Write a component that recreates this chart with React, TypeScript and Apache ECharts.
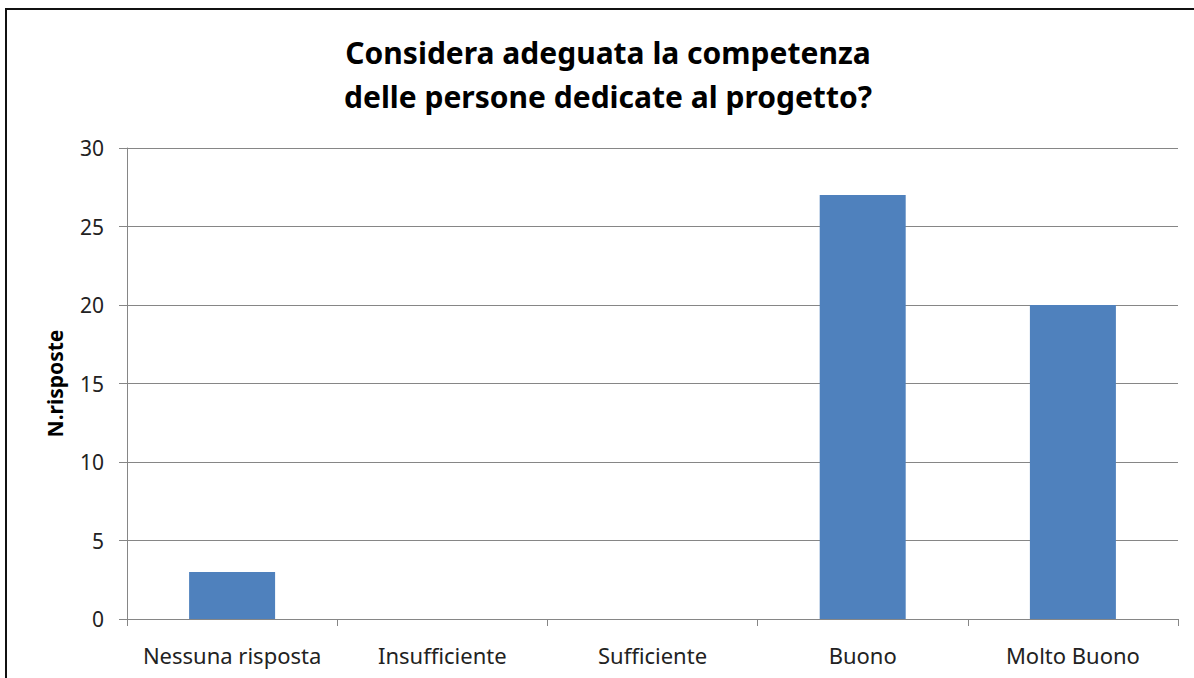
import React, { useEffect, useRef } from "react";
import * as echarts from "echarts";

const categories = ["Nessuna risposta", "Insufficiente", "Sufficiente", "Buono", "Molto Buono"];
const values = [3, 0, 0, 27, 20];
const titleLines = ["Considera adeguata la competenza", "delle persone dedicate al progetto?"];
const yAxisName = "N.risposte";

export default function App() {
  const ref = useRef<HTMLDivElement>(null);
  useEffect(() => {
    if (!ref.current) return;
    const chart = echarts.init(ref.current, null, { renderer: "svg" });
    chart.setOption({
      animation: false,
      backgroundColor: "#ffffff",
      title: {
        text: titleLines.join("\n"),
        left: 603,
        top: 25,
        textAlign: "center",
        textStyle: {
          fontFamily: "Noto Sans",
          fontWeight: "bold",
          fontSize: 30,
          lineHeight: 44,
          color: "#000",
        },
      },
      graphic: [
        {
          type: "rect",
          shape: { x: 6, y: 9, width: 1200, height: 700 },
          style: { fill: "none", stroke: "#111", lineWidth: 2 },
          silent: true,
        },
      ],
      grid: { left: 127, top: 148, right: 16, bottom: 59 },
      xAxis: {
        type: "category",
        data: categories,
        boundaryGap: true,
        axisLine: { show: true, lineStyle: { color: "#868686", width: 1 } },
        axisTick: { show: true, length: 7, interval: 0, lineStyle: { color: "#868686" } },
        axisLabel: {
          interval: 0,
          margin: 25,
          fontFamily: "Noto Sans",
          fontSize: 22,
          color: "#222",
        },
      },
      yAxis: {
        type: "value",
        min: 0,
        max: 30,
        interval: 5,
        name: yAxisName,
        nameLocation: "middle",
        nameGap: 62,
        nameRotate: 90,
        nameTextStyle: {
          fontFamily: "Noto Sans",
          fontWeight: "bold",
          fontSize: 21,
          color: "#000",
        },
        axisLine: { show: true, lineStyle: { color: "#868686", width: 1 } },
        axisTick: { show: true, length: 8, lineStyle: { color: "#868686" } },
        splitLine: { show: true, lineStyle: { color: "#868686", width: 1 } },
        axisLabel: {
          margin: 23,
          fontFamily: "Noto Sans",
          fontSize: 21,
          color: "#222",
        },
      },
      series: [
        {
          type: "bar",
          data: values,
          barWidth: 86,
          itemStyle: { color: "#4F81BD" },
        },
      ],
    });
    return () => chart.dispose();
  }, []);
  return (
    <div
      ref={ref}
      style={{ position: "absolute", left: 0, top: 0, width: 1194, height: 678 }}
    />
  );
}
